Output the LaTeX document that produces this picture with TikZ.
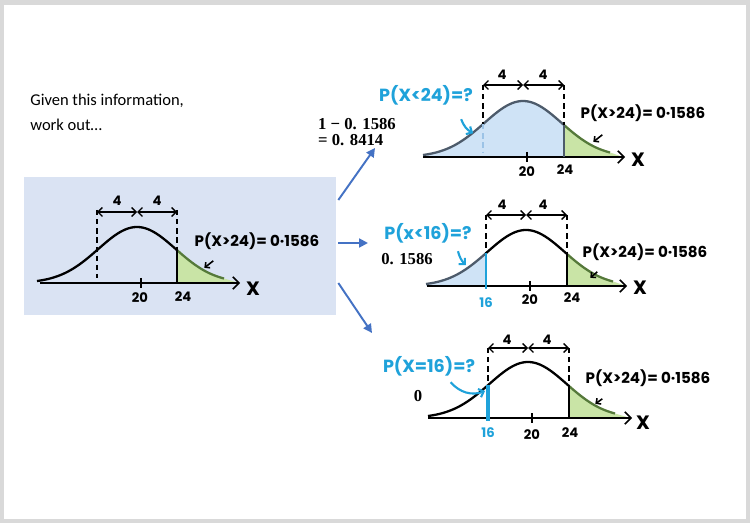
\documentclass[tikz,border=0pt]{standalone}
\usepackage{fontspec}
\setmainfont{Carlito}
\newfontfamily\handfont{Poppins}
\newfontfamily\sumfont{Liberation Serif}
\usetikzlibrary{arrows.meta,positioning,calc}

\definecolor{pagegray}{HTML}{D9D9D9}
\definecolor{boxblue}{HTML}{DAE3F3}
\definecolor{arrowblue}{HTML}{4472C4}
\definecolor{qcyan}{HTML}{1FA2DA}
\definecolor{tailgreen}{HTML}{C9E4A6}
\definecolor{edgegreen}{HTML}{55793A}
\definecolor{tailblue}{HTML}{CFE3F6}
\definecolor{guideblue}{HTML}{9CC3E6}
\definecolor{slate}{HTML}{4D5B6B}

\begin{document}
\begin{tikzpicture}[x=0.02cm, y=-0.02cm,
    declare function={bell(\t)=56*exp(0-(\t)*(\t)/3000);},
    bellline/.style={line width=1.3pt},
    axisline/.style={line width=0.9pt, -{Straight Barb[length=3.5pt, width=7pt]}},
    guide/.style={dash pattern=on 3pt off 2.2pt, line width=0.7pt},
    spanarrow/.style={line width=0.8pt, {Straight Barb[length=2.5pt, width=5pt]}-{Straight Barb[length=2.5pt, width=5pt]}},
    ptr/.style={line width=0.9pt, -{Straight Barb[length=2pt, width=4pt]}},
    qptr/.style={qcyan, line width=1.2pt, -{Straight Barb[length=2.5pt, width=5pt]}},
    flow/.style={arrowblue, line width=1.1pt, -{Triangle[length=5pt, width=5pt]}},
    hand/.style={font=\handfont\bfseries\fontsize{8.6}{11}\selectfont, inner sep=0pt},
    ask/.style={text=qcyan, inner sep=0pt, font=\handfont\bfseries\fontsize{10}{12}\selectfont},
    digit/.style={font=\handfont\bfseries\fontsize{7.5}{9}\selectfont, inner sep=0pt},
    axlabel/.style={font=\handfont\bfseries\fontsize{11}{13}\selectfont, inner sep=0pt},
    working/.style={font=\sumfont\bfseries\fontsize{9.5}{9.5}\selectfont, inner sep=0pt, align=left}
]

% Page
\fill[pagegray] (0,0) rectangle (750,523);
\fill[white] (4,5) rectangle (746,519);
\useasboundingbox (0,0) rectangle (750,523);

% Intro text
\node[anchor=west, align=left, inner sep=0pt, font=\fontsize{9.4}{14.2}\selectfont] (intro) at (30,112)
    {Given this information,\\work out\dots};

% Given box
\node[fill=boxblue, minimum width=6.24cm, minimum height=2.76cm, inner sep=0pt] (givenbox) at (180,246) {};

% Given distribution (left)
\begin{scope}[shift={(137,283)}]
  \fill[tailgreen] plot[domain=40:88, samples=20] (\x,{-bell(\x)}) -- (102,0) -- (40,0) -- cycle;
  \draw[axisline] (-97,0) -- (103,0);
  \draw[bellline] plot[domain=-100:40, samples=50, smooth] (\x,{-bell(\x)});
  \draw[bellline, edgegreen] plot[domain=40:87, samples=20, smooth] (\x,{-bell(\x)});
  \draw[guide] (-40,-73) -- (-40,-5);
  \draw[guide] (40,-73) -- (40,{-bell(40)});
  \draw[line width=1pt] (40,{-bell(40)}) -- (40,0);
  \draw[spanarrow] (-40,-71) -- (0,-71);
  \draw[spanarrow] (0,-71) -- (40,-71);
  \draw[line width=1pt] (4,-5) -- (4,5);
\end{scope}
\node[digit] (lfourA) at (117,201) {4};
\node[digit] (lfourB) at (157,201) {4};
\node[digit] (ltwenty) at (140,298) {20};
\node[digit] (ltwentyfour) at (183,297) {24};
\node[axlabel] (lx) at (253,289) {X};
\node[hand] (lblL) at (257,241) {P(X>24)= 0·1586};
\draw[ptr] ([shift={(19,11)}]lblL.south west) -- ++(-9,7);

% P(X<24) (top)
\begin{scope}[shift={(523,157)}]
  \fill[tailblue] plot[domain=-100:41, samples=50] (\x,{-bell(\x)}) -- (41,0) -- (-100,0) -- cycle;
  \fill[tailgreen] plot[domain=41:88, samples=20] (\x,{-bell(\x)}) -- (100,0) -- (41,0) -- cycle;
  \draw[axisline] (-100,0) -- (102,0);
  \draw[bellline, slate] plot[domain=-100:41, samples=50, smooth] (\x,{-bell(\x)});
  \draw[bellline, edgegreen] plot[domain=41:87, samples=20, smooth] (\x,{-bell(\x)});
  \draw[guide] (-40,-72) -- (-40,{-bell(-40)});
  \draw[guide, guideblue] (-40,{-bell(-40)}) -- (-40,-4);
  \draw[guide] (41,-72) -- (41,{-bell(41)});
  \draw[line width=1pt, slate] (41,{-bell(41)}) -- (41,0);
  \draw[spanarrow] (-40,-72) -- (0,-72);
  \draw[spanarrow] (0,-72) -- (41,-72);
  \draw[line width=1pt] (4,-5) -- (4,5);
\end{scope}
\node[digit] (tfourA) at (502,75) {4};
\node[digit] (tfourB) at (543,75) {4};
\node[digit] (ttwenty) at (527,172) {20};
\node[digit] (ttwentyfour) at (565,170) {24};
\node[axlabel] (tx) at (638,160) {X};
\node[hand] (lblT) at (643,113) {P(X>24)= 0·1586};
\draw[ptr] ([shift={(22,13)}]lblT.south west) -- ++(-9,7);
\node[ask] (qTop) at (426,95) {P(X<24)=?};
\draw[qptr] ([shift={(-12,14)}]qTop.south east) to[bend right=20] ++(12,14);
\node[working] (workTop) at (357,132) {1 − 0. 1586\\= 0. 8414};

% P(X<16) (middle)
\begin{scope}[shift={(526,286)}]
  \fill[tailblue] plot[domain=-100:-40, samples=30] (\x,{-bell(\x)}) -- (-40,0) -- (-100,0) -- cycle;
  \fill[tailgreen] plot[domain=41:88, samples=20] (\x,{-bell(\x)}) -- (100,0) -- (41,0) -- cycle;
  \draw[axisline] (-99,0) -- (101,0);
  \draw[bellline, slate] plot[domain=-100:-40, samples=30, smooth] (\x,{-bell(\x)});
  \draw[bellline] plot[domain=-40:41, samples=40, smooth] (\x,{-bell(\x)});
  \draw[bellline, edgegreen] plot[domain=41:87, samples=20, smooth] (\x,{-bell(\x)});
  \draw[guide] (-40,-71) -- (-40,{-bell(-40)});
  \draw[qcyan, line width=1.6pt] (-40,{-bell(-40)}) -- (-40,3);
  \draw[guide] (41,-71) -- (41,{-bell(41)});
  \draw[line width=1pt] (41,{-bell(41)}) -- (41,0);
  \draw[spanarrow] (-40,-71) -- (0,-71);
  \draw[spanarrow] (0,-71) -- (41,-71);
  \draw[line width=1pt] (4,-5) -- (4,5);
\end{scope}
\node[digit] (mfourA) at (502,205) {4};
\node[digit] (mfourB) at (543,205) {4};
\node[digit, text=qcyan] (msixteen) at (486,303) {16};
\node[digit] (mtwenty) at (530,300) {20};
\node[digit] (mtwentyfour) at (572,298) {24};
\node[axlabel] (mx) at (640,288) {X};
\node[hand] (lblM) at (645,252) {P(X>24)= 0·1586};
\draw[ptr] ([shift={(15,11)}]lblM.south west) -- ++(-7,6);
\node[ask] (qMid) at (428,233) {P(x<16)=?};
\draw[qptr] ([shift={(-14,8)}]qMid.south east) to[bend right=15] ++(8,14);
\node[working] (workMid) at (407,259) {0. 1586};

% P(X=16) (bottom)
\begin{scope}[shift={(528,418)}]
  \fill[tailgreen] plot[domain=41:88, samples=20] (\x,{-bell(\x)}) -- (102,0) -- (41,0) -- cycle;
  \draw[axisline] (-100,0) -- (104,0);
  \draw[bellline] plot[domain=-100:41, samples=50, smooth] (\x,{-bell(\x)});
  \draw[bellline, edgegreen] plot[domain=41:87, samples=20, smooth] (\x,{-bell(\x)});
  \draw[guide] (-40,-70) -- (-40,{-bell(-40)});
  \draw[qcyan, line width=1.8pt] (-40,{-bell(-40)}) -- (-40,3);
  \draw[guide] (41,-70) -- (41,{-bell(41)});
  \draw[line width=1pt] (41,{-bell(41)}) -- (41,0);
  \draw[spanarrow] (-40,-70) -- (0,-70);
  \draw[spanarrow] (0,-70) -- (41,-70);
  \draw[line width=1pt] (4,-5) -- (4,5);
\end{scope}
\node[digit] (bfourA) at (507,340) {4};
\node[digit] (bfourB) at (547,340) {4};
\node[digit, text=qcyan] (bsixteen) at (488,433) {16};
\node[digit] (btwenty) at (532,435) {20};
\node[digit] (btwentyfour) at (570,433) {24};
\node[axlabel] (bx) at (643,423) {X};
\node[hand] (lblB) at (648,378) {P(X>24)= 0·1586};
\draw[ptr] ([shift={(17,12)}]lblB.south west) -- ++(-7,5);
\node[ask] (qBot) at (429,366) {P(X=16)=?};
\coordinate (hitBot) at (485,391);
\draw[qptr] ([shift={(68,6)}]qBot.south west) to[bend right=35] (hitBot);
\node[working] (workBot) at (418,396) {0};

% Flow arrows
\coordinate (toTop) at (375,148);
\coordinate (toMid) at (368,243);
\coordinate (toBot) at (372,333);
\draw[flow] ([shift={(2,-46)}]givenbox.east) -- (toTop);
\draw[flow] ([shift={(2,-3)}]givenbox.east) -- (toMid);
\draw[flow] ([shift={(2,37)}]givenbox.east) -- (toBot);

\end{tikzpicture}
\end{document}
